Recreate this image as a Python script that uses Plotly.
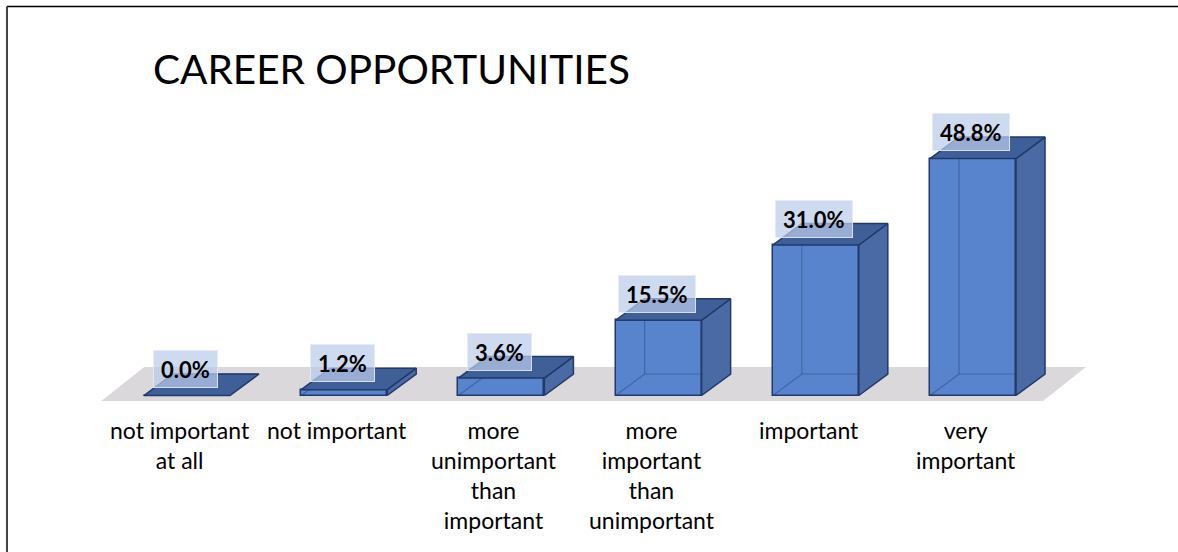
import plotly.graph_objects as go

# Survey answers and their shares (%)
categories = [
    "not important<br>at all",
    "not important",
    "more<br>unimportant<br>than<br>important",
    "more<br>important<br>than<br>unimportant",
    "important",
    "very<br>important",
]
shares = [0.0, 1.2, 3.6, 15.5, 31.0, 48.8]
value_labels = ["0.0%", "1.2%", "3.6%", "15.5%", "31.0%", "48.8%"]

# Canvas and pseudo-3D geometry (axis units)
W, H = 1178, 552
X_RANGE = [-1.1896, 6.304]
Y_RANGE = [-32.23, 81.46]
BAR_W = 0.547          # front face width
DX, DY = 0.1845, 4.43  # depth offset of the bar boxes

FRONT = "#5884CD"
SIDE = "#4A6AA5"
TOP = "#3F5F99"
EDGE = "#22396A"
FONT = "Lato"

idx = list(range(len(shares)))
fig = go.Figure()

# Front faces
fig.add_trace(go.Bar(
    x=idx, y=shares, width=BAR_W,
    marker=dict(color=FRONT, line=dict(color=EDGE, width=1.5)),
    hoverinfo="skip", showlegend=False,
))

for i, v in zip(idx, shares):
    xl, xr = i - BAR_W / 2, i + BAR_W / 2
    # back edges seen through the translucent box
    fig.add_trace(go.Scatter(
        x=[xl, xl + DX, xr + DX, None, xl + DX, xl + DX],
        y=[0, DY, DY, None, DY, v + DY],
        mode="lines", line=dict(color="rgba(30,55,105,0.4)", width=1.2),
        hoverinfo="skip", showlegend=False,
    ))
    # right side face
    if v > 0:
        fig.add_trace(go.Scatter(
            x=[xr, xr + DX, xr + DX, xr, xr],
            y=[0, DY, v + DY, v, 0],
            mode="lines", fill="toself", fillcolor=SIDE,
            line=dict(color=EDGE, width=1.5),
            hoverinfo="skip", showlegend=False,
        ))
    # top face
    fig.add_trace(go.Scatter(
        x=[xl, xr, xr + DX, xl + DX, xl],
        y=[v, v, v + DY, v + DY, v],
        mode="lines", fill="toself", fillcolor=TOP,
        line=dict(color=EDGE, width=1.5),
        hoverinfo="skip", showlegend=False,
    ))

# Floor plane
n = len(shares)
f_l, f_r = -0.545, n - 1 + 0.445
f_y0, f_y1, f_dx = -1.13, 5.87, 0.2735
fig.add_shape(
    type="path", xref="x", yref="y", layer="below",
    path=f"M {f_l},{f_y0} L {f_r},{f_y0} L {f_r + f_dx},{f_y1} L {f_l + f_dx},{f_y1} Z",
    fillcolor="#DAD8DA", line=dict(width=0),
)

annotations = []
# Value labels in translucent boxes
for i, v, t in zip(idx, shares, value_labels):
    annotations.append(dict(
        x=i - 0.01, y=v + 5.4, xref="x", yref="y", text=f"<b>{t}</b>",
        showarrow=False, font=dict(family=FONT, size=22, color="#000000"),
        bgcolor="rgba(186,204,234,0.72)", bordercolor="rgba(228,234,246,0.9)",
        borderwidth=1, borderpad=7, height=22, xanchor="center", yanchor="middle",
    ))
# Category labels
for i, c in zip(idx, categories):
    annotations.append(dict(
        x=i - 0.045, y=-3.9, xref="x", yref="y", text=c,
        showarrow=False, font=dict(family=FONT, size=23, color="#000000"),
        xanchor="center", yanchor="top", align="center",
    ))
# Title
annotations.append(dict(
    x=151 / W, y=1 - 68 / H, xref="paper", yref="paper",
    text="CAREER OPPORTUNITIES", showarrow=False,
    font=dict(family=FONT, size=40.5, color="#000000"),
    xanchor="left", yanchor="middle",
))

# Frame lines (top and left)
shapes_frame = [
    dict(type="line", xref="paper", yref="paper", x0=7 / W, x1=1, y0=1 - 6.5 / H, y1=1 - 6.5 / H,
         line=dict(color="#000000", width=1.5)),
    dict(type="line", xref="paper", yref="paper", x0=7 / W, x1=7 / W, y0=0, y1=1 - 6.5 / H,
         line=dict(color="#444444", width=2)),
]
for s in shapes_frame:
    fig.add_shape(**s)

fig.update_layout(
    width=W, height=H,
    margin=dict(l=0, r=0, t=0, b=0),
    paper_bgcolor="#FFFFFF", plot_bgcolor="rgba(0,0,0,0)",
    xaxis=dict(range=X_RANGE, visible=False, fixedrange=True),
    yaxis=dict(range=Y_RANGE, visible=False, fixedrange=True),
    annotations=annotations,
    bargap=0,
)

fig.write_html("out.html")
